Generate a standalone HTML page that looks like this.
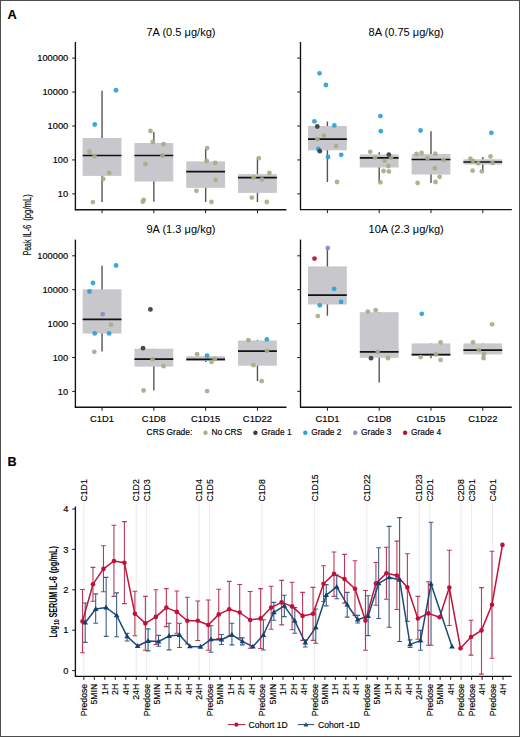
<!DOCTYPE html>
<html><head><meta charset="utf-8"><title>IL-6</title>
<style>html,body{margin:0;padding:0;background:#fff;}svg{display:block;}text{stroke:#000;stroke-width:0.15px;}</style>
</head><body>
<svg width="520" height="737" viewBox="0 0 520 737" font-family='"Liberation Sans", sans-serif'>
<rect x="0" y="0" width="520" height="737" fill="#fff"/>
<text x="7.5" y="18.7" font-size="12.8" font-weight="bold" fill="#000">A</text>
<line x1="102.05" y1="90.75" x2="102.05" y2="202.0" stroke="#555" stroke-width="1.4"/>
<line x1="153.85" y1="132.0" x2="153.85" y2="201.8" stroke="#555" stroke-width="1.4"/>
<line x1="205.65" y1="148.5" x2="205.65" y2="202.0" stroke="#555" stroke-width="1.4"/>
<line x1="257.45" y1="158.2" x2="257.45" y2="202.0" stroke="#555" stroke-width="1.4"/>
<rect x="82.65" y="138.0" width="38.8" height="37.90" fill="#c8c7cc"/>
<line x1="82.65" y1="155.5" x2="121.45" y2="155.5" stroke="#111" stroke-width="1.7"/>
<rect x="134.45" y="143.0" width="38.8" height="38.50" fill="#c8c7cc"/>
<line x1="134.45" y1="155.5" x2="173.25" y2="155.5" stroke="#111" stroke-width="1.7"/>
<rect x="186.25" y="161.4" width="38.8" height="26.45" fill="#c8c7cc"/>
<line x1="186.25" y1="171.6" x2="225.05" y2="171.6" stroke="#111" stroke-width="1.7"/>
<rect x="238.05" y="174.1" width="38.8" height="18.80" fill="#c8c7cc"/>
<line x1="238.05" y1="177.7" x2="276.85" y2="177.7" stroke="#111" stroke-width="1.7"/>
<circle cx="89.5" cy="151.75" r="2.4" fill="#a9ad88" fill-opacity="0.92"/>
<circle cx="94.5" cy="156.25" r="2.4" fill="#a9ad88" fill-opacity="0.92"/>
<circle cx="109.25" cy="173" r="2.4" fill="#a9ad88" fill-opacity="0.92"/>
<circle cx="103.25" cy="179" r="2.4" fill="#a9ad88" fill-opacity="0.92"/>
<circle cx="92.9" cy="202.1" r="2.4" fill="#a9ad88" fill-opacity="0.92"/>
<circle cx="116" cy="90.25" r="2.4" fill="#2aa3d6" fill-opacity="0.92"/>
<circle cx="94.75" cy="124.5" r="2.4" fill="#2aa3d6" fill-opacity="0.92"/>
<circle cx="150.5" cy="131" r="2.4" fill="#a9ad88" fill-opacity="0.92"/>
<circle cx="152.75" cy="142" r="2.4" fill="#a9ad88" fill-opacity="0.92"/>
<circle cx="163.5" cy="144.25" r="2.4" fill="#a9ad88" fill-opacity="0.92"/>
<circle cx="162.5" cy="155.5" r="2.4" fill="#a9ad88" fill-opacity="0.92"/>
<circle cx="145.5" cy="164" r="2.4" fill="#a9ad88" fill-opacity="0.92"/>
<circle cx="143.75" cy="200" r="2.4" fill="#a9ad88" fill-opacity="0.92"/>
<circle cx="142.75" cy="201.75" r="2.4" fill="#a9ad88" fill-opacity="0.92"/>
<circle cx="207.2" cy="148.1" r="2.4" fill="#a9ad88" fill-opacity="0.92"/>
<circle cx="206.7" cy="161" r="2.4" fill="#a9ad88" fill-opacity="0.92"/>
<circle cx="215.2" cy="162.9" r="2.4" fill="#a9ad88" fill-opacity="0.92"/>
<circle cx="215.6" cy="179.8" r="2.4" fill="#a9ad88" fill-opacity="0.92"/>
<circle cx="196.4" cy="190.8" r="2.4" fill="#a9ad88" fill-opacity="0.92"/>
<circle cx="211.4" cy="202" r="2.4" fill="#a9ad88" fill-opacity="0.92"/>
<circle cx="258.8" cy="158.2" r="2.4" fill="#a9ad88" fill-opacity="0.92"/>
<circle cx="269.4" cy="173" r="2.4" fill="#a9ad88" fill-opacity="0.92"/>
<circle cx="253.7" cy="177.3" r="2.4" fill="#a9ad88" fill-opacity="0.92"/>
<circle cx="262" cy="179.4" r="2.4" fill="#a9ad88" fill-opacity="0.92"/>
<circle cx="251.8" cy="197.6" r="2.4" fill="#a9ad88" fill-opacity="0.92"/>
<circle cx="266.8" cy="202" r="2.4" fill="#a9ad88" fill-opacity="0.92"/>
<line x1="75.4" y1="42.0" x2="75.4" y2="210.2" stroke="#111" stroke-width="1.35"/>
<line x1="74.9" y1="209.7" x2="286.5" y2="209.7" stroke="#111" stroke-width="1.35"/>
<line x1="72.2" y1="58.10" x2="75.4" y2="58.10" stroke="#1a1a1a" stroke-width="1"/>
<text transform="translate(68.20,61.20) scale(1.08,1)" font-size="8.6" text-anchor="end" fill="#000" >100000</text>
<line x1="72.2" y1="92.05" x2="75.4" y2="92.05" stroke="#1a1a1a" stroke-width="1"/>
<text transform="translate(68.20,95.15) scale(1.08,1)" font-size="8.6" text-anchor="end" fill="#000" >10000</text>
<line x1="72.2" y1="126.00" x2="75.4" y2="126.00" stroke="#1a1a1a" stroke-width="1"/>
<text transform="translate(68.20,129.10) scale(1.08,1)" font-size="8.6" text-anchor="end" fill="#000" >1000</text>
<line x1="72.2" y1="159.95" x2="75.4" y2="159.95" stroke="#1a1a1a" stroke-width="1"/>
<text transform="translate(68.20,163.05) scale(1.08,1)" font-size="8.6" text-anchor="end" fill="#000" >100</text>
<line x1="72.2" y1="193.90" x2="75.4" y2="193.90" stroke="#1a1a1a" stroke-width="1"/>
<text transform="translate(68.20,197.00) scale(1.08,1)" font-size="8.6" text-anchor="end" fill="#000" >10</text>
<line x1="102.05" y1="209.7" x2="102.05" y2="213.2" stroke="#1a1a1a" stroke-width="1"/>
<line x1="153.85" y1="209.7" x2="153.85" y2="213.2" stroke="#1a1a1a" stroke-width="1"/>
<line x1="205.65" y1="209.7" x2="205.65" y2="213.2" stroke="#1a1a1a" stroke-width="1"/>
<line x1="257.45" y1="209.7" x2="257.45" y2="213.2" stroke="#1a1a1a" stroke-width="1"/>
<text transform="translate(180.95,36.30) scale(1.075,1)" font-size="10.3" text-anchor="middle" fill="#000" style="stroke:none">7A (0.5 μg/kg)</text>
<line x1="327.4" y1="121.5" x2="327.4" y2="182.0" stroke="#555" stroke-width="1.4"/>
<line x1="379.2" y1="152.3" x2="379.2" y2="182.3" stroke="#555" stroke-width="1.4"/>
<line x1="431.0" y1="131.2" x2="431.0" y2="183.0" stroke="#555" stroke-width="1.4"/>
<line x1="482.8" y1="157.0" x2="482.8" y2="171.3" stroke="#555" stroke-width="1.4"/>
<rect x="308.00" y="126.0" width="38.8" height="24.30" fill="#c8c7cc"/>
<line x1="308.00" y1="139.2" x2="346.80" y2="139.2" stroke="#111" stroke-width="1.7"/>
<rect x="359.80" y="154.4" width="38.8" height="13.10" fill="#c8c7cc"/>
<line x1="359.80" y1="157.8" x2="398.60" y2="157.8" stroke="#111" stroke-width="1.7"/>
<rect x="411.60" y="154.0" width="38.8" height="20.50" fill="#c8c7cc"/>
<line x1="411.60" y1="159.5" x2="450.40" y2="159.5" stroke="#111" stroke-width="1.7"/>
<rect x="463.40" y="159.3" width="38.8" height="5.30" fill="#c8c7cc"/>
<line x1="463.40" y1="162.0" x2="502.20" y2="162.0" stroke="#111" stroke-width="1.7"/>
<circle cx="323.8" cy="135.7" r="2.4" fill="#a9ad88" fill-opacity="0.92"/>
<circle cx="317.3" cy="139.2" r="2.4" fill="#a9ad88" fill-opacity="0.92"/>
<circle cx="336.1" cy="146" r="2.4" fill="#a9ad88" fill-opacity="0.92"/>
<circle cx="337" cy="182" r="2.4" fill="#a9ad88" fill-opacity="0.92"/>
<circle cx="319.5" cy="73.3" r="2.4" fill="#2aa3d6" fill-opacity="0.92"/>
<circle cx="325.9" cy="85" r="2.4" fill="#2aa3d6" fill-opacity="0.92"/>
<circle cx="314.4" cy="121.3" r="2.4" fill="#2aa3d6" fill-opacity="0.92"/>
<circle cx="334.3" cy="125.4" r="2.4" fill="#2aa3d6" fill-opacity="0.92"/>
<circle cx="318.4" cy="149" r="2.4" fill="#2aa3d6" fill-opacity="0.92"/>
<circle cx="341.2" cy="154.8" r="2.4" fill="#2aa3d6" fill-opacity="0.92"/>
<circle cx="328" cy="157" r="2.4" fill="#2aa3d6" fill-opacity="0.92"/>
<circle cx="317.3" cy="126.5" r="2.4" fill="#373c48" fill-opacity="0.92"/>
<circle cx="319.8" cy="151.2" r="2.4" fill="#373c48" fill-opacity="0.92"/>
<circle cx="370.2" cy="151.8" r="2.4" fill="#a9ad88" fill-opacity="0.92"/>
<circle cx="375.1" cy="157.6" r="2.4" fill="#a9ad88" fill-opacity="0.92"/>
<circle cx="391" cy="157.6" r="2.4" fill="#a9ad88" fill-opacity="0.92"/>
<circle cx="384.6" cy="160.8" r="2.4" fill="#a9ad88" fill-opacity="0.92"/>
<circle cx="388.4" cy="166" r="2.4" fill="#a9ad88" fill-opacity="0.92"/>
<circle cx="383.6" cy="171" r="2.4" fill="#a9ad88" fill-opacity="0.92"/>
<circle cx="388.9" cy="171.4" r="2.4" fill="#a9ad88" fill-opacity="0.92"/>
<circle cx="380.4" cy="182.3" r="2.4" fill="#a9ad88" fill-opacity="0.92"/>
<circle cx="380.4" cy="116.1" r="2.4" fill="#2aa3d6" fill-opacity="0.92"/>
<circle cx="380.8" cy="131.2" r="2.4" fill="#2aa3d6" fill-opacity="0.92"/>
<circle cx="388.8" cy="154.6" r="2.4" fill="#373c48" fill-opacity="0.92"/>
<circle cx="416.5" cy="154" r="2.4" fill="#a9ad88" fill-opacity="0.92"/>
<circle cx="421.6" cy="153" r="2.4" fill="#a9ad88" fill-opacity="0.92"/>
<circle cx="435.3" cy="153.6" r="2.4" fill="#a9ad88" fill-opacity="0.92"/>
<circle cx="427.5" cy="158.2" r="2.4" fill="#a9ad88" fill-opacity="0.92"/>
<circle cx="443.4" cy="160" r="2.4" fill="#a9ad88" fill-opacity="0.92"/>
<circle cx="434.9" cy="168.2" r="2.4" fill="#a9ad88" fill-opacity="0.92"/>
<circle cx="439.6" cy="176.8" r="2.4" fill="#a9ad88" fill-opacity="0.92"/>
<circle cx="435.5" cy="182" r="2.4" fill="#a9ad88" fill-opacity="0.92"/>
<circle cx="417.6" cy="183" r="2.4" fill="#a9ad88" fill-opacity="0.92"/>
<circle cx="420.5" cy="130.5" r="2.4" fill="#2aa3d6" fill-opacity="0.92"/>
<circle cx="470.4" cy="158.7" r="2.4" fill="#a9ad88" fill-opacity="0.92"/>
<circle cx="473" cy="160.8" r="2.4" fill="#a9ad88" fill-opacity="0.92"/>
<circle cx="478.3" cy="163.3" r="2.4" fill="#a9ad88" fill-opacity="0.92"/>
<circle cx="490.5" cy="156.5" r="2.4" fill="#a9ad88" fill-opacity="0.92"/>
<circle cx="492.4" cy="162.9" r="2.4" fill="#a9ad88" fill-opacity="0.92"/>
<circle cx="472.6" cy="170.7" r="2.4" fill="#a9ad88" fill-opacity="0.92"/>
<circle cx="481.9" cy="171.3" r="2.4" fill="#a9ad88" fill-opacity="0.92"/>
<circle cx="491.4" cy="132.8" r="2.4" fill="#2aa3d6" fill-opacity="0.92"/>
<line x1="300.5" y1="42.0" x2="300.5" y2="210.1" stroke="#111" stroke-width="1.35"/>
<line x1="300.0" y1="209.6" x2="511.8" y2="209.6" stroke="#111" stroke-width="1.35"/>
<line x1="297.3" y1="58.10" x2="300.5" y2="58.10" stroke="#1a1a1a" stroke-width="1"/>
<line x1="297.3" y1="92.05" x2="300.5" y2="92.05" stroke="#1a1a1a" stroke-width="1"/>
<line x1="297.3" y1="126.00" x2="300.5" y2="126.00" stroke="#1a1a1a" stroke-width="1"/>
<line x1="297.3" y1="159.95" x2="300.5" y2="159.95" stroke="#1a1a1a" stroke-width="1"/>
<line x1="297.3" y1="193.90" x2="300.5" y2="193.90" stroke="#1a1a1a" stroke-width="1"/>
<line x1="327.4" y1="209.6" x2="327.4" y2="213.1" stroke="#1a1a1a" stroke-width="1"/>
<line x1="379.2" y1="209.6" x2="379.2" y2="213.1" stroke="#1a1a1a" stroke-width="1"/>
<line x1="431.0" y1="209.6" x2="431.0" y2="213.1" stroke="#1a1a1a" stroke-width="1"/>
<line x1="482.8" y1="209.6" x2="482.8" y2="213.1" stroke="#1a1a1a" stroke-width="1"/>
<text transform="translate(406.15,36.30) scale(1.075,1)" font-size="10.3" text-anchor="middle" fill="#000" style="stroke:none">8A (0.75 μg/kg)</text>
<line x1="102.05" y1="265.7" x2="102.05" y2="351.6" stroke="#555" stroke-width="1.4"/>
<line x1="153.85" y1="348.7" x2="153.85" y2="390.5" stroke="#555" stroke-width="1.4"/>
<line x1="205.65" y1="354.2" x2="205.65" y2="362.0" stroke="#555" stroke-width="1.4"/>
<line x1="257.45" y1="339.8" x2="257.45" y2="381.2" stroke="#555" stroke-width="1.4"/>
<rect x="82.65" y="289.3" width="38.8" height="44.20" fill="#c8c7cc"/>
<line x1="82.65" y1="319.3" x2="121.45" y2="319.3" stroke="#111" stroke-width="1.7"/>
<rect x="134.45" y="348.7" width="38.8" height="17.90" fill="#c8c7cc"/>
<line x1="134.45" y1="359.2" x2="173.25" y2="359.2" stroke="#111" stroke-width="1.7"/>
<rect x="186.25" y="356.2" width="38.8" height="4.80" fill="#c8c7cc"/>
<line x1="186.25" y1="359.3" x2="225.05" y2="359.3" stroke="#111" stroke-width="1.7"/>
<rect x="238.05" y="340.5" width="38.8" height="25.20" fill="#c8c7cc"/>
<line x1="238.05" y1="351.1" x2="276.85" y2="351.1" stroke="#111" stroke-width="1.7"/>
<circle cx="111" cy="324.7" r="2.4" fill="#a9ad88" fill-opacity="0.92"/>
<circle cx="94.3" cy="351.8" r="2.4" fill="#a9ad88" fill-opacity="0.92"/>
<circle cx="116.1" cy="265.5" r="2.4" fill="#2aa3d6" fill-opacity="0.92"/>
<circle cx="93" cy="283" r="2.4" fill="#2aa3d6" fill-opacity="0.92"/>
<circle cx="89.5" cy="291.5" r="2.4" fill="#2aa3d6" fill-opacity="0.92"/>
<circle cx="94.7" cy="333.4" r="2.4" fill="#2aa3d6" fill-opacity="0.92"/>
<circle cx="109.1" cy="333.4" r="2.4" fill="#2aa3d6" fill-opacity="0.92"/>
<circle cx="102.7" cy="314.2" r="2.4" fill="#8e8cc2" fill-opacity="0.92"/>
<circle cx="152.5" cy="359.2" r="2.4" fill="#a9ad88" fill-opacity="0.92"/>
<circle cx="163.5" cy="366.2" r="2.4" fill="#a9ad88" fill-opacity="0.92"/>
<circle cx="143.6" cy="390.5" r="2.4" fill="#a9ad88" fill-opacity="0.92"/>
<circle cx="150.4" cy="309.4" r="2.4" fill="#373c48" fill-opacity="0.92"/>
<circle cx="143" cy="348.2" r="2.4" fill="#373c48" fill-opacity="0.92"/>
<circle cx="197.1" cy="354.2" r="2.4" fill="#a9ad88" fill-opacity="0.92"/>
<circle cx="214.8" cy="359" r="2.4" fill="#a9ad88" fill-opacity="0.92"/>
<circle cx="211.5" cy="361.9" r="2.4" fill="#a9ad88" fill-opacity="0.92"/>
<circle cx="207.1" cy="391.1" r="2.4" fill="#a9ad88" fill-opacity="0.92"/>
<circle cx="207.1" cy="355.7" r="2.4" fill="#2aa3d6" fill-opacity="0.92"/>
<circle cx="248.4" cy="340.2" r="2.4" fill="#a9ad88" fill-opacity="0.92"/>
<circle cx="267" cy="350.9" r="2.4" fill="#a9ad88" fill-opacity="0.92"/>
<circle cx="253.5" cy="365.2" r="2.4" fill="#a9ad88" fill-opacity="0.92"/>
<circle cx="261.7" cy="381.2" r="2.4" fill="#a9ad88" fill-opacity="0.92"/>
<circle cx="266.8" cy="339.4" r="2.4" fill="#2aa3d6" fill-opacity="0.92"/>
<line x1="75.4" y1="239.6" x2="75.4" y2="407.7" stroke="#111" stroke-width="1.35"/>
<line x1="74.9" y1="407.2" x2="286.5" y2="407.2" stroke="#111" stroke-width="1.35"/>
<line x1="72.2" y1="255.80" x2="75.4" y2="255.80" stroke="#1a1a1a" stroke-width="1"/>
<text transform="translate(68.20,258.90) scale(1.08,1)" font-size="8.6" text-anchor="end" fill="#000" >100000</text>
<line x1="72.2" y1="289.70" x2="75.4" y2="289.70" stroke="#1a1a1a" stroke-width="1"/>
<text transform="translate(68.20,292.80) scale(1.08,1)" font-size="8.6" text-anchor="end" fill="#000" >10000</text>
<line x1="72.2" y1="323.60" x2="75.4" y2="323.60" stroke="#1a1a1a" stroke-width="1"/>
<text transform="translate(68.20,326.70) scale(1.08,1)" font-size="8.6" text-anchor="end" fill="#000" >1000</text>
<line x1="72.2" y1="357.50" x2="75.4" y2="357.50" stroke="#1a1a1a" stroke-width="1"/>
<text transform="translate(68.20,360.60) scale(1.08,1)" font-size="8.6" text-anchor="end" fill="#000" >100</text>
<line x1="72.2" y1="391.40" x2="75.4" y2="391.40" stroke="#1a1a1a" stroke-width="1"/>
<text transform="translate(68.20,394.50) scale(1.08,1)" font-size="8.6" text-anchor="end" fill="#000" >10</text>
<line x1="102.05" y1="407.2" x2="102.05" y2="410.7" stroke="#1a1a1a" stroke-width="1"/>
<line x1="153.85" y1="407.2" x2="153.85" y2="410.7" stroke="#1a1a1a" stroke-width="1"/>
<line x1="205.65" y1="407.2" x2="205.65" y2="410.7" stroke="#1a1a1a" stroke-width="1"/>
<line x1="257.45" y1="407.2" x2="257.45" y2="410.7" stroke="#1a1a1a" stroke-width="1"/>
<text transform="translate(180.95,232.90) scale(1.075,1)" font-size="10.3" text-anchor="middle" fill="#000" style="stroke:none">9A (1.3 μg/kg)</text>
<text transform="translate(102.05,421.80) scale(1.067,1)" font-size="8.8" text-anchor="middle" fill="#000" >C1D1</text>
<text transform="translate(153.85,421.80) scale(1.067,1)" font-size="8.8" text-anchor="middle" fill="#000" >C1D8</text>
<text transform="translate(205.65,421.80) scale(1.067,1)" font-size="8.8" text-anchor="middle" fill="#000" >C1D15</text>
<text transform="translate(257.45,421.80) scale(1.067,1)" font-size="8.8" text-anchor="middle" fill="#000" >C1D22</text>
<line x1="327.4" y1="248.0" x2="327.4" y2="315.8" stroke="#555" stroke-width="1.4"/>
<line x1="379.2" y1="312.0" x2="379.2" y2="382.5" stroke="#555" stroke-width="1.4"/>
<line x1="431.0" y1="343.4" x2="431.0" y2="358.2" stroke="#555" stroke-width="1.4"/>
<line x1="482.8" y1="343.4" x2="482.8" y2="358.2" stroke="#555" stroke-width="1.4"/>
<rect x="308.00" y="266.4" width="38.8" height="38.10" fill="#c8c7cc"/>
<line x1="308.00" y1="295.2" x2="346.80" y2="295.2" stroke="#111" stroke-width="1.7"/>
<rect x="359.80" y="312.2" width="38.8" height="45.60" fill="#c8c7cc"/>
<line x1="359.80" y1="351.8" x2="398.60" y2="351.8" stroke="#111" stroke-width="1.7"/>
<rect x="411.60" y="343.4" width="38.8" height="12.60" fill="#c8c7cc"/>
<line x1="411.60" y1="354.6" x2="450.40" y2="354.6" stroke="#111" stroke-width="1.7"/>
<rect x="463.40" y="343.4" width="38.8" height="11.00" fill="#c8c7cc"/>
<line x1="463.40" y1="350.1" x2="502.20" y2="350.1" stroke="#111" stroke-width="1.7"/>
<circle cx="317.8" cy="316.1" r="2.4" fill="#a9ad88" fill-opacity="0.92"/>
<circle cx="334.1" cy="288.8" r="2.4" fill="#2aa3d6" fill-opacity="0.92"/>
<circle cx="319.8" cy="305.3" r="2.4" fill="#2aa3d6" fill-opacity="0.92"/>
<circle cx="341.1" cy="301.9" r="2.4" fill="#2aa3d6" fill-opacity="0.92"/>
<circle cx="327.8" cy="248" r="2.4" fill="#8e8cc2" fill-opacity="0.92"/>
<circle cx="314.5" cy="258.6" r="2.4" fill="#b3112e" fill-opacity="0.92"/>
<circle cx="367.8" cy="311.6" r="2.4" fill="#a9ad88" fill-opacity="0.92"/>
<circle cx="375.7" cy="310.2" r="2.4" fill="#a9ad88" fill-opacity="0.92"/>
<circle cx="377.8" cy="351.8" r="2.4" fill="#a9ad88" fill-opacity="0.92"/>
<circle cx="388" cy="358.2" r="2.4" fill="#a9ad88" fill-opacity="0.92"/>
<circle cx="371" cy="358.2" r="2.4" fill="#373c48" fill-opacity="0.92"/>
<circle cx="440.6" cy="342.3" r="2.4" fill="#a9ad88" fill-opacity="0.92"/>
<circle cx="436" cy="354.4" r="2.4" fill="#a9ad88" fill-opacity="0.92"/>
<circle cx="420.7" cy="357.1" r="2.4" fill="#a9ad88" fill-opacity="0.92"/>
<circle cx="440.6" cy="359.9" r="2.4" fill="#a9ad88" fill-opacity="0.92"/>
<circle cx="421.8" cy="313.8" r="2.4" fill="#2aa3d6" fill-opacity="0.92"/>
<circle cx="492.1" cy="324.3" r="2.4" fill="#a9ad88" fill-opacity="0.92"/>
<circle cx="473" cy="342.3" r="2.4" fill="#a9ad88" fill-opacity="0.92"/>
<circle cx="478.8" cy="350.1" r="2.4" fill="#a9ad88" fill-opacity="0.92"/>
<circle cx="484" cy="354" r="2.4" fill="#a9ad88" fill-opacity="0.92"/>
<circle cx="483.6" cy="358.2" r="2.4" fill="#a9ad88" fill-opacity="0.92"/>
<line x1="300.5" y1="239.6" x2="300.5" y2="407.7" stroke="#111" stroke-width="1.35"/>
<line x1="300.0" y1="407.2" x2="511.8" y2="407.2" stroke="#111" stroke-width="1.35"/>
<line x1="297.3" y1="255.80" x2="300.5" y2="255.80" stroke="#1a1a1a" stroke-width="1"/>
<line x1="297.3" y1="289.70" x2="300.5" y2="289.70" stroke="#1a1a1a" stroke-width="1"/>
<line x1="297.3" y1="323.60" x2="300.5" y2="323.60" stroke="#1a1a1a" stroke-width="1"/>
<line x1="297.3" y1="357.50" x2="300.5" y2="357.50" stroke="#1a1a1a" stroke-width="1"/>
<line x1="297.3" y1="391.40" x2="300.5" y2="391.40" stroke="#1a1a1a" stroke-width="1"/>
<line x1="327.4" y1="407.2" x2="327.4" y2="410.7" stroke="#1a1a1a" stroke-width="1"/>
<line x1="379.2" y1="407.2" x2="379.2" y2="410.7" stroke="#1a1a1a" stroke-width="1"/>
<line x1="431.0" y1="407.2" x2="431.0" y2="410.7" stroke="#1a1a1a" stroke-width="1"/>
<line x1="482.8" y1="407.2" x2="482.8" y2="410.7" stroke="#1a1a1a" stroke-width="1"/>
<text transform="translate(406.15,232.90) scale(1.075,1)" font-size="10.3" text-anchor="middle" fill="#000" style="stroke:none">10A (2.3 μg/kg)</text>
<text transform="translate(327.40,421.80) scale(1.067,1)" font-size="8.8" text-anchor="middle" fill="#000" >C1D1</text>
<text transform="translate(379.20,421.80) scale(1.067,1)" font-size="8.8" text-anchor="middle" fill="#000" >C1D8</text>
<text transform="translate(431.00,421.80) scale(1.067,1)" font-size="8.8" text-anchor="middle" fill="#000" >C1D15</text>
<text transform="translate(482.80,421.80) scale(1.067,1)" font-size="8.8" text-anchor="middle" fill="#000" >C1D22</text>
<text transform="translate(30.5,255.3) rotate(-90)" font-size="10.8" font-weight="normal" textLength="15.6" lengthAdjust="spacingAndGlyphs" fill="#000" style="stroke-width:0.15px">Peak</text>
<text transform="translate(30.5,237.3) rotate(-90)" font-size="10.8" font-weight="normal" textLength="12.6" lengthAdjust="spacingAndGlyphs" fill="#000" style="stroke-width:0.15px">IL-6</text>
<text transform="translate(30.5,220.8) rotate(-90)" font-size="10.8" font-weight="normal" textLength="26.7" lengthAdjust="spacingAndGlyphs" fill="#000" style="stroke-width:0.15px">(pg/mL)</text>
<text x="146.6" y="435.1" font-size="8.4" fill="#000">CRS Grade:</text>
<circle cx="205.50" cy="432.8" r="2.2" fill="#a9ad88"/>
<text x="211.40" y="435.1" font-size="8.4" fill="#000">No CRS</text>
<circle cx="255.40" cy="432.8" r="2.2" fill="#373c48"/>
<text x="261.30" y="435.1" font-size="8.4" fill="#000">Grade 1</text>
<circle cx="305.30" cy="432.8" r="2.2" fill="#2aa3d6"/>
<text x="311.20" y="435.1" font-size="8.4" fill="#000">Grade 2</text>
<circle cx="355.20" cy="432.8" r="2.2" fill="#8e8cc2"/>
<text x="361.10" y="435.1" font-size="8.4" fill="#000">Grade 3</text>
<circle cx="405.10" cy="432.8" r="2.2" fill="#b3112e"/>
<text x="411.00" y="435.1" font-size="8.4" fill="#000">Grade 4</text>
<text x="7.5" y="466.0" font-size="12.6" font-weight="bold" fill="#000">B</text>
<line x1="83.85" y1="503" x2="83.85" y2="675.4" stroke="#e4e4e4" stroke-width="0.8"/>
<text transform="translate(86.95,501.5) rotate(-90)" font-size="8.7" fill="#000">C1D1</text>
<line x1="136.25" y1="503" x2="136.25" y2="675.4" stroke="#e4e4e4" stroke-width="0.8"/>
<text transform="translate(139.35,501.5) rotate(-90)" font-size="8.7" fill="#000">C1D2</text>
<line x1="146.73" y1="503" x2="146.73" y2="675.4" stroke="#e4e4e4" stroke-width="0.8"/>
<text transform="translate(149.83,501.5) rotate(-90)" font-size="8.7" fill="#000">C1D3</text>
<line x1="199.13" y1="503" x2="199.13" y2="675.4" stroke="#e4e4e4" stroke-width="0.8"/>
<text transform="translate(202.23,501.5) rotate(-90)" font-size="8.7" fill="#000">C1D4</text>
<line x1="209.61" y1="503" x2="209.61" y2="675.4" stroke="#e4e4e4" stroke-width="0.8"/>
<text transform="translate(212.71,501.5) rotate(-90)" font-size="8.7" fill="#000">C1D5</text>
<line x1="262.01" y1="503" x2="262.01" y2="675.4" stroke="#e4e4e4" stroke-width="0.8"/>
<text transform="translate(265.11,501.5) rotate(-90)" font-size="8.7" fill="#000">C1D8</text>
<line x1="314.41" y1="503" x2="314.41" y2="675.4" stroke="#e4e4e4" stroke-width="0.8"/>
<text transform="translate(317.51,501.5) rotate(-90)" font-size="8.7" fill="#000">C1D15</text>
<line x1="366.81" y1="503" x2="366.81" y2="675.4" stroke="#e4e4e4" stroke-width="0.8"/>
<text transform="translate(369.91,501.5) rotate(-90)" font-size="8.7" fill="#000">C1D22</text>
<line x1="419.21" y1="503" x2="419.21" y2="675.4" stroke="#e4e4e4" stroke-width="0.8"/>
<text transform="translate(422.31,501.5) rotate(-90)" font-size="8.7" fill="#000">C1D23</text>
<line x1="429.69" y1="503" x2="429.69" y2="675.4" stroke="#e4e4e4" stroke-width="0.8"/>
<text transform="translate(432.79,501.5) rotate(-90)" font-size="8.7" fill="#000">C2D1</text>
<line x1="461.13" y1="503" x2="461.13" y2="675.4" stroke="#e4e4e4" stroke-width="0.8"/>
<text transform="translate(464.23,501.5) rotate(-90)" font-size="8.7" fill="#000">C2D8</text>
<line x1="471.61" y1="503" x2="471.61" y2="675.4" stroke="#e4e4e4" stroke-width="0.8"/>
<text transform="translate(474.71,501.5) rotate(-90)" font-size="8.7" fill="#000">C3D1</text>
<line x1="492.57" y1="503" x2="492.57" y2="675.4" stroke="#e4e4e4" stroke-width="0.8"/>
<text transform="translate(495.67,501.5) rotate(-90)" font-size="8.7" fill="#000">C4D1</text>
<path d="M82.50 589.5V652.7M80.10 589.5h4.8M80.10 652.7h4.8" stroke="#b93a58" stroke-width="1.1" fill="none"/>
<path d="M92.98 567.4V601.2M90.58 567.4h4.8M90.58 601.2h4.8" stroke="#b93a58" stroke-width="1.1" fill="none"/>
<path d="M103.46 545.8V591.8M101.06 545.8h4.8M101.06 591.8h4.8" stroke="#b93a58" stroke-width="1.1" fill="none"/>
<path d="M113.94 525.2V596.4M111.54 525.2h4.8M111.54 596.4h4.8" stroke="#b93a58" stroke-width="1.1" fill="none"/>
<path d="M124.42 521.6V603.6M122.02 521.6h4.8M122.02 603.6h4.8" stroke="#b93a58" stroke-width="1.1" fill="none"/>
<path d="M134.90 591.2V635.8M132.50 591.2h4.8M132.50 635.8h4.8" stroke="#b93a58" stroke-width="1.1" fill="none"/>
<path d="M145.38 596.4V650.2M142.98 596.4h4.8M142.98 650.2h4.8" stroke="#b93a58" stroke-width="1.1" fill="none"/>
<path d="M155.86 589.8V644.5M153.46 589.8h4.8M153.46 644.5h4.8" stroke="#b93a58" stroke-width="1.1" fill="none"/>
<path d="M166.34 588.6V626.6M163.94 588.6h4.8M163.94 626.6h4.8" stroke="#b93a58" stroke-width="1.1" fill="none"/>
<path d="M176.82 591.0V633.2M174.42 591.0h4.8M174.42 633.2h4.8" stroke="#b93a58" stroke-width="1.1" fill="none"/>
<path d="M187.30 597.3V644.0M184.90 597.3h4.8M184.90 644.0h4.8" stroke="#b93a58" stroke-width="1.1" fill="none"/>
<path d="M197.78 601.0V640.5M195.38 601.0h4.8M195.38 640.5h4.8" stroke="#b93a58" stroke-width="1.1" fill="none"/>
<path d="M208.26 600.0V650.2M205.86 600.0h4.8M205.86 650.2h4.8" stroke="#b93a58" stroke-width="1.1" fill="none"/>
<path d="M218.74 589.3V638.5M216.34 589.3h4.8M216.34 638.5h4.8" stroke="#b93a58" stroke-width="1.1" fill="none"/>
<path d="M229.22 581.4V636.0M226.82 581.4h4.8M226.82 636.0h4.8" stroke="#b93a58" stroke-width="1.1" fill="none"/>
<path d="M239.70 584.5V637.9M237.30 584.5h4.8M237.30 637.9h4.8" stroke="#b93a58" stroke-width="1.1" fill="none"/>
<path d="M250.18 591.5V648.3M247.78 591.5h4.8M247.78 648.3h4.8" stroke="#b93a58" stroke-width="1.1" fill="none"/>
<path d="M260.66 588.6V648.5M258.26 588.6h4.8M258.26 648.5h4.8" stroke="#b93a58" stroke-width="1.1" fill="none"/>
<path d="M271.14 586.2V629.3M268.74 586.2h4.8M268.74 629.3h4.8" stroke="#b93a58" stroke-width="1.1" fill="none"/>
<path d="M281.62 580.4V624.9M279.22 580.4h4.8M279.22 624.9h4.8" stroke="#b93a58" stroke-width="1.1" fill="none"/>
<path d="M292.10 582.2V629.7M289.70 582.2h4.8M289.70 629.7h4.8" stroke="#b93a58" stroke-width="1.1" fill="none"/>
<path d="M302.58 592.4V640.4M300.18 592.4h4.8M300.18 640.4h4.8" stroke="#b93a58" stroke-width="1.1" fill="none"/>
<path d="M313.06 587.4V640.4M310.66 587.4h4.8M310.66 640.4h4.8" stroke="#b93a58" stroke-width="1.1" fill="none"/>
<path d="M323.54 565.8V601.5M321.14 565.8h4.8M321.14 601.5h4.8" stroke="#b93a58" stroke-width="1.1" fill="none"/>
<path d="M334.02 552.0V596.4M331.62 552.0h4.8M331.62 596.4h4.8" stroke="#b93a58" stroke-width="1.1" fill="none"/>
<path d="M344.50 554.4V603.1M342.10 554.4h4.8M342.10 603.1h4.8" stroke="#b93a58" stroke-width="1.1" fill="none"/>
<path d="M354.98 560.8V615.4M352.58 560.8h4.8M352.58 615.4h4.8" stroke="#b93a58" stroke-width="1.1" fill="none"/>
<path d="M365.46 590.5V650.3M363.06 590.5h4.8M363.06 650.3h4.8" stroke="#b93a58" stroke-width="1.1" fill="none"/>
<path d="M375.94 562.5V605.2M373.54 562.5h4.8M373.54 605.2h4.8" stroke="#b93a58" stroke-width="1.1" fill="none"/>
<path d="M386.42 547.3V599.3M384.02 547.3h4.8M384.02 599.3h4.8" stroke="#b93a58" stroke-width="1.1" fill="none"/>
<path d="M396.90 541.1V609.5M394.50 541.1h4.8M394.50 609.5h4.8" stroke="#b93a58" stroke-width="1.1" fill="none"/>
<path d="M407.38 553.7V621.4M404.98 553.7h4.8M404.98 621.4h4.8" stroke="#b93a58" stroke-width="1.1" fill="none"/>
<path d="M417.86 596.4V639.2M415.46 596.4h4.8M415.46 639.2h4.8" stroke="#b93a58" stroke-width="1.1" fill="none"/>
<path d="M428.34 581.8V645.2M425.94 581.8h4.8M425.94 645.2h4.8" stroke="#b93a58" stroke-width="1.1" fill="none"/>
<path d="M449.30 550.3V625.5M446.90 550.3h4.8M446.90 625.5h4.8" stroke="#b93a58" stroke-width="1.1" fill="none"/>
<path d="M471.01 620.2V655.1M468.61 620.2h4.8M468.61 655.1h4.8" stroke="#b93a58" stroke-width="1.1" fill="none"/>
<path d="M481.49 587.6V674.1M479.09 587.6h4.8M479.09 674.1h4.8" stroke="#b93a58" stroke-width="1.1" fill="none"/>
<path d="M491.97 551.3V658.2M489.57 551.3h4.8M489.57 658.2h4.8" stroke="#b93a58" stroke-width="1.1" fill="none"/>
<path d="M85.20 603.0V642.4M82.80 603.0h4.8M82.80 642.4h4.8" stroke="#3d5f86" stroke-width="1.1" fill="none"/>
<path d="M95.68 593.9V623.3M93.28 593.9h4.8M93.28 623.3h4.8" stroke="#3d5f86" stroke-width="1.1" fill="none"/>
<path d="M106.16 577.4V636.4M103.76 577.4h4.8M103.76 636.4h4.8" stroke="#3d5f86" stroke-width="1.1" fill="none"/>
<path d="M116.64 592.9V636.8M114.24 592.9h4.8M114.24 636.8h4.8" stroke="#3d5f86" stroke-width="1.1" fill="none"/>
<path d="M127.12 633.2V641.0M124.72 633.2h4.8M124.72 641.0h4.8" stroke="#3d5f86" stroke-width="1.1" fill="none"/>
<path d="M148.08 628.9V650.9M145.68 628.9h4.8M145.68 650.9h4.8" stroke="#3d5f86" stroke-width="1.1" fill="none"/>
<path d="M158.56 635.4V646.2M156.16 635.4h4.8M156.16 646.2h4.8" stroke="#3d5f86" stroke-width="1.1" fill="none"/>
<path d="M169.04 623.3V649.9M166.64 623.3h4.8M166.64 649.9h4.8" stroke="#3d5f86" stroke-width="1.1" fill="none"/>
<path d="M179.52 623.3V647.5M177.12 623.3h4.8M177.12 647.5h4.8" stroke="#3d5f86" stroke-width="1.1" fill="none"/>
<path d="M210.96 625.8V652.2M208.56 625.8h4.8M208.56 652.2h4.8" stroke="#3d5f86" stroke-width="1.1" fill="none"/>
<path d="M221.44 634.5V644.5M219.04 634.5h4.8M219.04 644.5h4.8" stroke="#3d5f86" stroke-width="1.1" fill="none"/>
<path d="M231.92 623.3V644.9M229.52 623.3h4.8M229.52 644.9h4.8" stroke="#3d5f86" stroke-width="1.1" fill="none"/>
<path d="M242.40 637.9V644.9M240.00 637.9h4.8M240.00 644.9h4.8" stroke="#3d5f86" stroke-width="1.1" fill="none"/>
<path d="M263.36 619.8V650.0M260.96 619.8h4.8M260.96 650.0h4.8" stroke="#3d5f86" stroke-width="1.1" fill="none"/>
<path d="M273.84 602.4V620.2M271.44 602.4h4.8M271.44 620.2h4.8" stroke="#3d5f86" stroke-width="1.1" fill="none"/>
<path d="M284.32 595.2V616.6M281.92 595.2h4.8M281.92 616.6h4.8" stroke="#3d5f86" stroke-width="1.1" fill="none"/>
<path d="M294.80 607.6V633.2M292.40 607.6h4.8M292.40 633.2h4.8" stroke="#3d5f86" stroke-width="1.1" fill="none"/>
<path d="M305.28 639.9V647.0M302.88 639.9h4.8M302.88 647.0h4.8" stroke="#3d5f86" stroke-width="1.1" fill="none"/>
<path d="M315.76 609.0V643.2M313.36 609.0h4.8M313.36 643.2h4.8" stroke="#3d5f86" stroke-width="1.1" fill="none"/>
<path d="M326.24 584.6V605.9M323.84 584.6h4.8M323.84 605.9h4.8" stroke="#3d5f86" stroke-width="1.1" fill="none"/>
<path d="M336.72 575.0V598.8M334.32 575.0h4.8M334.32 598.8h4.8" stroke="#3d5f86" stroke-width="1.1" fill="none"/>
<path d="M347.20 592.4V617.1M344.80 592.4h4.8M344.80 617.1h4.8" stroke="#3d5f86" stroke-width="1.1" fill="none"/>
<path d="M357.68 615.4V623.0M355.28 615.4h4.8M355.28 623.0h4.8" stroke="#3d5f86" stroke-width="1.1" fill="none"/>
<path d="M368.16 595.7V635.6M365.76 595.7h4.8M365.76 635.6h4.8" stroke="#3d5f86" stroke-width="1.1" fill="none"/>
<path d="M378.64 547.7V618.5M376.24 547.7h4.8M376.24 618.5h4.8" stroke="#3d5f86" stroke-width="1.1" fill="none"/>
<path d="M389.12 526.4V627.3M386.72 526.4h4.8M386.72 627.3h4.8" stroke="#3d5f86" stroke-width="1.1" fill="none"/>
<path d="M399.60 517.6V641.5M397.20 517.6h4.8M397.20 641.5h4.8" stroke="#3d5f86" stroke-width="1.1" fill="none"/>
<path d="M410.08 639.9V647.5M407.68 639.9h4.8M407.68 647.5h4.8" stroke="#3d5f86" stroke-width="1.1" fill="none"/>
<path d="M420.56 630.4V650.3M418.16 630.4h4.8M418.16 650.3h4.8" stroke="#3d5f86" stroke-width="1.1" fill="none"/>
<path d="M431.04 522.3V645.3M428.64 522.3h4.8M428.64 645.3h4.8" stroke="#3d5f86" stroke-width="1.1" fill="none"/>
<polyline points="82.50,621.4 92.98,584.2 103.46,568.9 113.94,561.0 124.42,562.7 134.90,613.8 145.38,623.4 155.86,616.9 166.34,607.6 176.82,611.9 187.30,620.8 197.78,620.8 208.26,625.0 218.74,614.4 229.22,609.3 239.70,612.5 250.18,620.0 260.66,618.4 271.14,607.6 281.62,602.4 292.10,606.4 302.58,615.9 313.06,613.8 323.54,583.8 334.02,573.9 344.50,579.1 354.98,588.8 365.46,620.6 375.94,583.4 386.42,573.2 396.90,575.5 407.38,587.4 417.86,618.5 428.34,613.4 439.57,617.3 449.30,587.6 460.53,648.3 471.01,637.0 481.49,630.4 491.97,604.7 502.45,544.9" stroke="#c0113a" stroke-width="1.5" fill="none" stroke-linejoin="round"/>
<polyline points="85.20,622.7 95.68,609.0 106.16,607.5 116.64,615.4 127.12,636.4 137.60,646.0 148.08,641.0 158.56,641.5 169.04,636.1 179.52,635.0 190.00,646.4 200.48,646.8 210.96,639.4 221.44,639.7 231.92,634.8 242.40,641.4 252.88,646.7 263.36,635.0 273.84,612.3 284.32,605.9 294.80,620.9 305.28,642.7 315.76,627.3 326.24,595.2 336.72,586.9 347.20,604.7 357.68,619.7 368.16,616.1 378.64,583.4 389.12,577.4 399.60,579.8 410.08,644.4 420.56,640.6 431.04,583.9 452.00,646.5" stroke="#1b4a78" stroke-width="1.5" fill="none" stroke-linejoin="round"/>
<circle cx="82.50" cy="621.4" r="2.3" fill="#c0113a"/>
<circle cx="92.98" cy="584.2" r="2.3" fill="#c0113a"/>
<circle cx="103.46" cy="568.9" r="2.3" fill="#c0113a"/>
<circle cx="113.94" cy="561.0" r="2.3" fill="#c0113a"/>
<circle cx="124.42" cy="562.7" r="2.3" fill="#c0113a"/>
<circle cx="134.90" cy="613.8" r="2.3" fill="#c0113a"/>
<circle cx="145.38" cy="623.4" r="2.3" fill="#c0113a"/>
<circle cx="155.86" cy="616.9" r="2.3" fill="#c0113a"/>
<circle cx="166.34" cy="607.6" r="2.3" fill="#c0113a"/>
<circle cx="176.82" cy="611.9" r="2.3" fill="#c0113a"/>
<circle cx="187.30" cy="620.8" r="2.3" fill="#c0113a"/>
<circle cx="197.78" cy="620.8" r="2.3" fill="#c0113a"/>
<circle cx="208.26" cy="625.0" r="2.3" fill="#c0113a"/>
<circle cx="218.74" cy="614.4" r="2.3" fill="#c0113a"/>
<circle cx="229.22" cy="609.3" r="2.3" fill="#c0113a"/>
<circle cx="239.70" cy="612.5" r="2.3" fill="#c0113a"/>
<circle cx="250.18" cy="620.0" r="2.3" fill="#c0113a"/>
<circle cx="260.66" cy="618.4" r="2.3" fill="#c0113a"/>
<circle cx="271.14" cy="607.6" r="2.3" fill="#c0113a"/>
<circle cx="281.62" cy="602.4" r="2.3" fill="#c0113a"/>
<circle cx="292.10" cy="606.4" r="2.3" fill="#c0113a"/>
<circle cx="302.58" cy="615.9" r="2.3" fill="#c0113a"/>
<circle cx="313.06" cy="613.8" r="2.3" fill="#c0113a"/>
<circle cx="323.54" cy="583.8" r="2.3" fill="#c0113a"/>
<circle cx="334.02" cy="573.9" r="2.3" fill="#c0113a"/>
<circle cx="344.50" cy="579.1" r="2.3" fill="#c0113a"/>
<circle cx="354.98" cy="588.8" r="2.3" fill="#c0113a"/>
<circle cx="365.46" cy="620.6" r="2.3" fill="#c0113a"/>
<circle cx="375.94" cy="583.4" r="2.3" fill="#c0113a"/>
<circle cx="386.42" cy="573.2" r="2.3" fill="#c0113a"/>
<circle cx="396.90" cy="575.5" r="2.3" fill="#c0113a"/>
<circle cx="407.38" cy="587.4" r="2.3" fill="#c0113a"/>
<circle cx="417.86" cy="618.5" r="2.3" fill="#c0113a"/>
<circle cx="428.34" cy="613.4" r="2.3" fill="#c0113a"/>
<circle cx="439.57" cy="617.3" r="2.3" fill="#c0113a"/>
<circle cx="449.30" cy="587.6" r="2.3" fill="#c0113a"/>
<circle cx="460.53" cy="648.3" r="2.3" fill="#c0113a"/>
<circle cx="471.01" cy="637.0" r="2.3" fill="#c0113a"/>
<circle cx="481.49" cy="630.4" r="2.3" fill="#c0113a"/>
<circle cx="491.97" cy="604.7" r="2.3" fill="#c0113a"/>
<circle cx="502.45" cy="544.9" r="2.3" fill="#c0113a"/>
<path d="M85.20 619.70L88.00 624.60L82.40 624.60Z" fill="#163f6c"/>
<path d="M95.68 606.00L98.48 610.90L92.88 610.90Z" fill="#163f6c"/>
<path d="M106.16 604.50L108.96 609.40L103.36 609.40Z" fill="#163f6c"/>
<path d="M116.64 612.40L119.44 617.30L113.84 617.30Z" fill="#163f6c"/>
<path d="M127.12 633.40L129.92 638.30L124.32 638.30Z" fill="#163f6c"/>
<path d="M137.60 643.00L140.40 647.90L134.80 647.90Z" fill="#163f6c"/>
<path d="M148.08 638.00L150.88 642.90L145.28 642.90Z" fill="#163f6c"/>
<path d="M158.56 638.50L161.36 643.40L155.76 643.40Z" fill="#163f6c"/>
<path d="M169.04 633.10L171.84 638.00L166.24 638.00Z" fill="#163f6c"/>
<path d="M179.52 632.00L182.32 636.90L176.72 636.90Z" fill="#163f6c"/>
<path d="M190.00 643.40L192.80 648.30L187.20 648.30Z" fill="#163f6c"/>
<path d="M200.48 643.80L203.28 648.70L197.68 648.70Z" fill="#163f6c"/>
<path d="M210.96 636.40L213.76 641.30L208.16 641.30Z" fill="#163f6c"/>
<path d="M221.44 636.70L224.24 641.60L218.64 641.60Z" fill="#163f6c"/>
<path d="M231.92 631.80L234.72 636.70L229.12 636.70Z" fill="#163f6c"/>
<path d="M242.40 638.40L245.20 643.30L239.60 643.30Z" fill="#163f6c"/>
<path d="M252.88 643.70L255.68 648.60L250.08 648.60Z" fill="#163f6c"/>
<path d="M263.36 632.00L266.16 636.90L260.56 636.90Z" fill="#163f6c"/>
<path d="M273.84 609.30L276.64 614.20L271.04 614.20Z" fill="#163f6c"/>
<path d="M284.32 602.90L287.12 607.80L281.52 607.80Z" fill="#163f6c"/>
<path d="M294.80 617.90L297.60 622.80L292.00 622.80Z" fill="#163f6c"/>
<path d="M305.28 639.70L308.08 644.60L302.48 644.60Z" fill="#163f6c"/>
<path d="M315.76 624.30L318.56 629.20L312.96 629.20Z" fill="#163f6c"/>
<path d="M326.24 592.20L329.04 597.10L323.44 597.10Z" fill="#163f6c"/>
<path d="M336.72 583.90L339.52 588.80L333.92 588.80Z" fill="#163f6c"/>
<path d="M347.20 601.70L350.00 606.60L344.40 606.60Z" fill="#163f6c"/>
<path d="M357.68 616.70L360.48 621.60L354.88 621.60Z" fill="#163f6c"/>
<path d="M368.16 613.10L370.96 618.00L365.36 618.00Z" fill="#163f6c"/>
<path d="M378.64 580.40L381.44 585.30L375.84 585.30Z" fill="#163f6c"/>
<path d="M389.12 574.40L391.92 579.30L386.32 579.30Z" fill="#163f6c"/>
<path d="M399.60 576.80L402.40 581.70L396.80 581.70Z" fill="#163f6c"/>
<path d="M410.08 641.40L412.88 646.30L407.28 646.30Z" fill="#163f6c"/>
<path d="M420.56 637.60L423.36 642.50L417.76 642.50Z" fill="#163f6c"/>
<path d="M431.04 580.90L433.84 585.80L428.24 585.80Z" fill="#163f6c"/>
<path d="M452.00 643.50L454.80 648.40L449.20 648.40Z" fill="#163f6c"/>
<line x1="75.4" y1="506.5" x2="75.4" y2="676.9" stroke="#111" stroke-width="1.35"/>
<line x1="74.9" y1="676.4" x2="511.6" y2="676.4" stroke="#111" stroke-width="1.35"/>
<line x1="72.2" y1="670.60" x2="75.4" y2="670.60" stroke="#1a1a1a" stroke-width="1"/>
<text transform="translate(68.40,673.70) scale(1.08,1)" font-size="8.6" text-anchor="end" fill="#000" >0</text>
<line x1="72.2" y1="630.20" x2="75.4" y2="630.20" stroke="#1a1a1a" stroke-width="1"/>
<text transform="translate(68.40,633.30) scale(1.08,1)" font-size="8.6" text-anchor="end" fill="#000" >1</text>
<line x1="72.2" y1="589.80" x2="75.4" y2="589.80" stroke="#1a1a1a" stroke-width="1"/>
<text transform="translate(68.40,592.90) scale(1.08,1)" font-size="8.6" text-anchor="end" fill="#000" >2</text>
<line x1="72.2" y1="549.40" x2="75.4" y2="549.40" stroke="#1a1a1a" stroke-width="1"/>
<text transform="translate(68.40,552.50) scale(1.08,1)" font-size="8.6" text-anchor="end" fill="#000" >3</text>
<line x1="72.2" y1="509.00" x2="75.4" y2="509.00" stroke="#1a1a1a" stroke-width="1"/>
<text transform="translate(68.40,512.10) scale(1.08,1)" font-size="8.6" text-anchor="end" fill="#000" >4</text>
<line x1="83.85" y1="676.4" x2="83.85" y2="679.9" stroke="#1a1a1a" stroke-width="1"/>
<text transform="translate(86.95,683.8) rotate(-90)" font-size="8.7" text-anchor="end" fill="#000">Predose</text>
<line x1="94.33" y1="676.4" x2="94.33" y2="679.9" stroke="#1a1a1a" stroke-width="1"/>
<text transform="translate(97.43,683.8) rotate(-90)" font-size="8.7" text-anchor="end" fill="#000">5MIN</text>
<line x1="104.81" y1="676.4" x2="104.81" y2="679.9" stroke="#1a1a1a" stroke-width="1"/>
<text transform="translate(107.91,683.8) rotate(-90)" font-size="8.7" text-anchor="end" fill="#000">1H</text>
<line x1="115.29" y1="676.4" x2="115.29" y2="679.9" stroke="#1a1a1a" stroke-width="1"/>
<text transform="translate(118.39,683.8) rotate(-90)" font-size="8.7" text-anchor="end" fill="#000">2H</text>
<line x1="125.77" y1="676.4" x2="125.77" y2="679.9" stroke="#1a1a1a" stroke-width="1"/>
<text transform="translate(128.87,683.8) rotate(-90)" font-size="8.7" text-anchor="end" fill="#000">4H</text>
<line x1="136.25" y1="676.4" x2="136.25" y2="679.9" stroke="#1a1a1a" stroke-width="1"/>
<text transform="translate(139.35,683.8) rotate(-90)" font-size="8.7" text-anchor="end" fill="#000">24H</text>
<line x1="146.73" y1="676.4" x2="146.73" y2="679.9" stroke="#1a1a1a" stroke-width="1"/>
<text transform="translate(149.83,683.8) rotate(-90)" font-size="8.7" text-anchor="end" fill="#000">Predose</text>
<line x1="157.21" y1="676.4" x2="157.21" y2="679.9" stroke="#1a1a1a" stroke-width="1"/>
<text transform="translate(160.31,683.8) rotate(-90)" font-size="8.7" text-anchor="end" fill="#000">5MIN</text>
<line x1="167.69" y1="676.4" x2="167.69" y2="679.9" stroke="#1a1a1a" stroke-width="1"/>
<text transform="translate(170.79,683.8) rotate(-90)" font-size="8.7" text-anchor="end" fill="#000">1H</text>
<line x1="178.17" y1="676.4" x2="178.17" y2="679.9" stroke="#1a1a1a" stroke-width="1"/>
<text transform="translate(181.27,683.8) rotate(-90)" font-size="8.7" text-anchor="end" fill="#000">2H</text>
<line x1="188.65" y1="676.4" x2="188.65" y2="679.9" stroke="#1a1a1a" stroke-width="1"/>
<text transform="translate(191.75,683.8) rotate(-90)" font-size="8.7" text-anchor="end" fill="#000">4H</text>
<line x1="199.13" y1="676.4" x2="199.13" y2="679.9" stroke="#1a1a1a" stroke-width="1"/>
<text transform="translate(202.23,683.8) rotate(-90)" font-size="8.7" text-anchor="end" fill="#000">24H</text>
<line x1="209.61" y1="676.4" x2="209.61" y2="679.9" stroke="#1a1a1a" stroke-width="1"/>
<text transform="translate(212.71,683.8) rotate(-90)" font-size="8.7" text-anchor="end" fill="#000">Predose</text>
<line x1="220.09" y1="676.4" x2="220.09" y2="679.9" stroke="#1a1a1a" stroke-width="1"/>
<text transform="translate(223.19,683.8) rotate(-90)" font-size="8.7" text-anchor="end" fill="#000">5MIN</text>
<line x1="230.57" y1="676.4" x2="230.57" y2="679.9" stroke="#1a1a1a" stroke-width="1"/>
<text transform="translate(233.67,683.8) rotate(-90)" font-size="8.7" text-anchor="end" fill="#000">1H</text>
<line x1="241.05" y1="676.4" x2="241.05" y2="679.9" stroke="#1a1a1a" stroke-width="1"/>
<text transform="translate(244.15,683.8) rotate(-90)" font-size="8.7" text-anchor="end" fill="#000">2H</text>
<line x1="251.53" y1="676.4" x2="251.53" y2="679.9" stroke="#1a1a1a" stroke-width="1"/>
<text transform="translate(254.63,683.8) rotate(-90)" font-size="8.7" text-anchor="end" fill="#000">4H</text>
<line x1="262.01" y1="676.4" x2="262.01" y2="679.9" stroke="#1a1a1a" stroke-width="1"/>
<text transform="translate(265.11,683.8) rotate(-90)" font-size="8.7" text-anchor="end" fill="#000">Predose</text>
<line x1="272.49" y1="676.4" x2="272.49" y2="679.9" stroke="#1a1a1a" stroke-width="1"/>
<text transform="translate(275.59,683.8) rotate(-90)" font-size="8.7" text-anchor="end" fill="#000">5MIN</text>
<line x1="282.97" y1="676.4" x2="282.97" y2="679.9" stroke="#1a1a1a" stroke-width="1"/>
<text transform="translate(286.07,683.8) rotate(-90)" font-size="8.7" text-anchor="end" fill="#000">1H</text>
<line x1="293.45" y1="676.4" x2="293.45" y2="679.9" stroke="#1a1a1a" stroke-width="1"/>
<text transform="translate(296.55,683.8) rotate(-90)" font-size="8.7" text-anchor="end" fill="#000">2H</text>
<line x1="303.93" y1="676.4" x2="303.93" y2="679.9" stroke="#1a1a1a" stroke-width="1"/>
<text transform="translate(307.03,683.8) rotate(-90)" font-size="8.7" text-anchor="end" fill="#000">4H</text>
<line x1="314.41" y1="676.4" x2="314.41" y2="679.9" stroke="#1a1a1a" stroke-width="1"/>
<text transform="translate(317.51,683.8) rotate(-90)" font-size="8.7" text-anchor="end" fill="#000">Predose</text>
<line x1="324.89" y1="676.4" x2="324.89" y2="679.9" stroke="#1a1a1a" stroke-width="1"/>
<text transform="translate(327.99,683.8) rotate(-90)" font-size="8.7" text-anchor="end" fill="#000">5MIN</text>
<line x1="335.37" y1="676.4" x2="335.37" y2="679.9" stroke="#1a1a1a" stroke-width="1"/>
<text transform="translate(338.47,683.8) rotate(-90)" font-size="8.7" text-anchor="end" fill="#000">1H</text>
<line x1="345.85" y1="676.4" x2="345.85" y2="679.9" stroke="#1a1a1a" stroke-width="1"/>
<text transform="translate(348.95,683.8) rotate(-90)" font-size="8.7" text-anchor="end" fill="#000">2H</text>
<line x1="356.33" y1="676.4" x2="356.33" y2="679.9" stroke="#1a1a1a" stroke-width="1"/>
<text transform="translate(359.43,683.8) rotate(-90)" font-size="8.7" text-anchor="end" fill="#000">4H</text>
<line x1="366.81" y1="676.4" x2="366.81" y2="679.9" stroke="#1a1a1a" stroke-width="1"/>
<text transform="translate(369.91,683.8) rotate(-90)" font-size="8.7" text-anchor="end" fill="#000">Predose</text>
<line x1="377.29" y1="676.4" x2="377.29" y2="679.9" stroke="#1a1a1a" stroke-width="1"/>
<text transform="translate(380.39,683.8) rotate(-90)" font-size="8.7" text-anchor="end" fill="#000">5MIN</text>
<line x1="387.77" y1="676.4" x2="387.77" y2="679.9" stroke="#1a1a1a" stroke-width="1"/>
<text transform="translate(390.87,683.8) rotate(-90)" font-size="8.7" text-anchor="end" fill="#000">1H</text>
<line x1="398.25" y1="676.4" x2="398.25" y2="679.9" stroke="#1a1a1a" stroke-width="1"/>
<text transform="translate(401.35,683.8) rotate(-90)" font-size="8.7" text-anchor="end" fill="#000">2H</text>
<line x1="408.73" y1="676.4" x2="408.73" y2="679.9" stroke="#1a1a1a" stroke-width="1"/>
<text transform="translate(411.83,683.8) rotate(-90)" font-size="8.7" text-anchor="end" fill="#000">4H</text>
<line x1="419.21" y1="676.4" x2="419.21" y2="679.9" stroke="#1a1a1a" stroke-width="1"/>
<text transform="translate(422.31,683.8) rotate(-90)" font-size="8.7" text-anchor="end" fill="#000">24H</text>
<line x1="429.69" y1="676.4" x2="429.69" y2="679.9" stroke="#1a1a1a" stroke-width="1"/>
<text transform="translate(432.79,683.8) rotate(-90)" font-size="8.7" text-anchor="end" fill="#000">Predose</text>
<line x1="440.17" y1="676.4" x2="440.17" y2="679.9" stroke="#1a1a1a" stroke-width="1"/>
<text transform="translate(443.27,683.8) rotate(-90)" font-size="8.7" text-anchor="end" fill="#000">5MIN</text>
<line x1="450.65" y1="676.4" x2="450.65" y2="679.9" stroke="#1a1a1a" stroke-width="1"/>
<text transform="translate(453.75,683.8) rotate(-90)" font-size="8.7" text-anchor="end" fill="#000">4H</text>
<line x1="461.13" y1="676.4" x2="461.13" y2="679.9" stroke="#1a1a1a" stroke-width="1"/>
<text transform="translate(464.23,683.8) rotate(-90)" font-size="8.7" text-anchor="end" fill="#000">Predose</text>
<line x1="471.61" y1="676.4" x2="471.61" y2="679.9" stroke="#1a1a1a" stroke-width="1"/>
<text transform="translate(474.71,683.8) rotate(-90)" font-size="8.7" text-anchor="end" fill="#000">Predose</text>
<line x1="482.09" y1="676.4" x2="482.09" y2="679.9" stroke="#1a1a1a" stroke-width="1"/>
<text transform="translate(485.19,683.8) rotate(-90)" font-size="8.7" text-anchor="end" fill="#000">4H</text>
<line x1="492.57" y1="676.4" x2="492.57" y2="679.9" stroke="#1a1a1a" stroke-width="1"/>
<text transform="translate(495.67,683.8) rotate(-90)" font-size="8.7" text-anchor="end" fill="#000">Predose</text>
<line x1="503.05" y1="676.4" x2="503.05" y2="679.9" stroke="#1a1a1a" stroke-width="1"/>
<text transform="translate(506.15,683.8) rotate(-90)" font-size="8.7" text-anchor="end" fill="#000">4H</text>
<text transform="translate(56.9,637.6) rotate(-90)" font-size="10.6" font-weight="bold" textLength="11.9" lengthAdjust="spacingAndGlyphs" fill="#000" style="stroke-width:0.05px">Log</text>
<text transform="translate(58.9,625.1) rotate(-90)" font-size="7.8" font-weight="bold" textLength="5.9" lengthAdjust="spacingAndGlyphs" fill="#000" style="stroke-width:0.05px">10</text>
<text transform="translate(56.9,617.6) rotate(-90)" font-size="10.6" font-weight="bold" textLength="25.9" lengthAdjust="spacingAndGlyphs" fill="#000" style="stroke-width:0.05px">SERUM</text>
<text transform="translate(56.9,590.0) rotate(-90)" font-size="10.6" font-weight="bold" textLength="13.7" lengthAdjust="spacingAndGlyphs" fill="#000" style="stroke-width:0.05px">IL-6</text>
<text transform="translate(56.9,573.2) rotate(-90)" font-size="10.6" font-weight="bold" textLength="27.3" lengthAdjust="spacingAndGlyphs" fill="#000" style="stroke-width:0.05px">(pg/mL)</text>
<line x1="227.8" y1="724.6" x2="245.3" y2="724.6" stroke="#a8163a" stroke-width="1.0"/>
<circle cx="236.4" cy="724.7" r="2.1" fill="#c0113a"/>
<text x="248.6" y="727.6" font-size="8.6" fill="#000">Cohort 1D</text>
<line x1="297.8" y1="724.6" x2="314.2" y2="724.6" stroke="#24466e" stroke-width="1.0"/>
<path d="M306 722.3L308.4 726.6L303.6 726.6Z" fill="#1b4a78"/>
<text x="318.0" y="727.6" font-size="8.6" fill="#000">Cohort -1D</text>
<rect x="0.5" y="0.5" width="519" height="736" fill="none" stroke="#4d4d4d" stroke-width="1"/>
</svg>
</body></html>
